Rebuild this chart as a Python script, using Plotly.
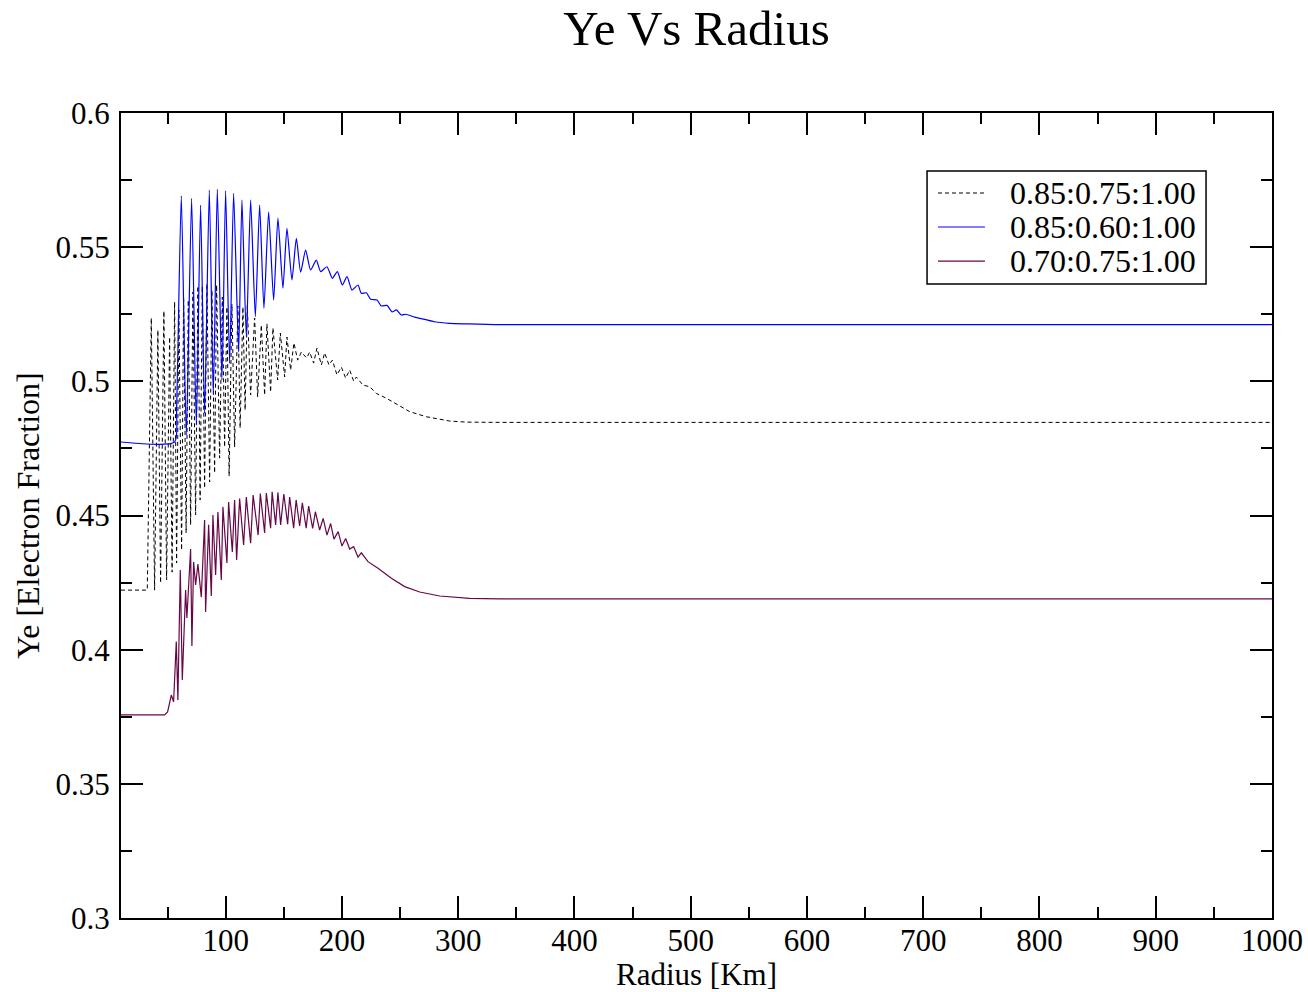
import plotly.graph_objects as go

# ---------------- data ----------------
# Series 1: 0.85:0.75:1.00 (black dashed)
r_black = [10, 32.61, 36.05, 38.89, 41.73, 44.05, 46.89, 49.22, 51.80, 53.95, 56.10,
           57.82, 59.80, 62.12, 63.84, 66.00, 67.89, 69.87, 71.85, 74.17, 76.15,
           78.04, 79.93, 81.91, 83.89, 86.22, 88.20, 90.52, 92.24, 94.82, 97.14,
           99.12, 101.10, 103.00, 105.40, 107.73, 110.57, 112.46, 114.87, 116.76, 118.65,
           121.49, 124.94, 127.52, 130.70, 133.54, 135.52, 138.70, 140.68, 144.73, 147.05,
           150.75, 152.73, 155.91, 158.75, 161.93, 165.12, 169.68, 172.26, 175.70, 178.54,
           182.33, 185.17, 188.87, 191.79, 195.75, 199.54, 203.24, 206.68, 210.12, 212.44,
           218.12, 223.89, 229.65, 238.26, 248.24, 258.30, 272.67, 292.72, 307.09, 335.74, 1000]
ye_black = [0.4222, 0.4222, 0.5236, 0.4222, 0.5191, 0.4248, 0.5262, 0.4260, 0.5165, 0.4289, 0.5296,
            0.4323, 0.5266, 0.4371, 0.5314, 0.4435, 0.5303, 0.4465, 0.5333, 0.4502, 0.5355,
            0.4558, 0.5355, 0.4602, 0.5363, 0.4625, 0.5340, 0.4658, 0.5359, 0.4714, 0.5314,
            0.4755, 0.5277, 0.4647, 0.5288, 0.4755, 0.5281, 0.4826, 0.5277, 0.4893, 0.5281,
            0.4949, 0.5236, 0.4942, 0.5210, 0.4949, 0.5214, 0.4960, 0.5199, 0.5005, 0.5180,
            0.5016, 0.5165, 0.5042, 0.5143, 0.5079, 0.5109, 0.5087, 0.5109, 0.5068, 0.5124,
            0.5061, 0.5106, 0.5061, 0.5079, 0.5024, 0.5053, 0.5012, 0.5042, 0.5001, 0.5016,
            0.4986, 0.4980, 0.4955, 0.4937, 0.4912, 0.4887, 0.4868, 0.4852, 0.4848, 0.4847, 0.4847]

# Series 2: 0.85:0.60:1.00 (blue)
r_blue = [10, 56.10, 57.82, 61.87, 66.17, 70.73, 74.77, 78.47, 81.91, 85.96, 89.40,
          92.84, 96.80, 99.98, 103.42, 106.87, 111.17, 114.01, 117.79, 121.49, 125.54,
          129.24, 132.94, 136.98, 141.28, 144.98, 149.29, 152.73, 157.03, 160.82, 164.5,
          168.8, 173.1, 178.0, 181.7, 187.1, 191.8, 196.1, 200.4, 204.4, 208.7,
          213.8, 216.7, 221.0, 224.7, 230.2, 233.9, 238.8, 243.1, 246.9, 251.2,
          254.9, 262.6, 271.2, 279.8, 292.7, 307.1, 335.7, 1000]
ye_blue = [0.4774, 0.4774, 0.4900, 0.5691, 0.4800, 0.5682, 0.4837, 0.5657, 0.4881, 0.5713, 0.4949,
           0.5716, 0.5005, 0.5710, 0.5067, 0.5701, 0.5110, 0.5676, 0.5166, 0.5676, 0.5241,
           0.5657, 0.5272, 0.5632, 0.5303, 0.5608, 0.5347, 0.5570, 0.5378, 0.5533, 0.5407,
           0.5489, 0.5415, 0.5452, 0.5409, 0.5427, 0.5384, 0.5409, 0.5359, 0.5390, 0.5340,
           0.5359, 0.5328, 0.5330, 0.5306, 0.5303, 0.5281, 0.5283, 0.5259, 0.5266, 0.5247,
           0.5250, 0.5239, 0.5231, 0.5222, 0.5216, 0.5214, 0.5211, 0.5211]

# Series 3: 0.70:0.75:1.00 (maroon)
r_maroon = [10, 47.50, 50.08, 53.26, 55.24, 57.56, 58.94, 61.00, 62.73, 65.57, 66.68,
            69.87, 70.99, 72.45, 74.17, 76.15, 79.08, 81.91, 82.77, 85.36, 87.68,
            89.06, 91.38, 93.36, 96.28, 97.66, 101.10, 102.56, 105.75, 107.73, 109.45,
            112.03, 115.47, 117.79, 121.49, 123.64, 127.95, 129.84, 133.54, 135.00, 138.70,
            139.99, 143.00, 144.98, 147.31, 150.06, 153.33, 155.05, 158.49, 160.64, 163.66,
            165.98, 169.25, 171.40, 174.84, 177.17, 180.86, 183.88, 187.15, 190.33, 193.17,
            196.78, 200.05, 203.24, 206.68, 210.12, 213.82, 216.75, 222.42, 231.03, 242.56,
            254.00, 266.91, 284.12, 309.93, 335.74, 1000]
ye_maroon = [0.3757, 0.3757, 0.3768, 0.3831, 0.3806, 0.4030, 0.3812, 0.4297, 0.3887, 0.4222, 0.4118,
             0.4375, 0.4014, 0.4327, 0.4241, 0.4319, 0.4196, 0.4483, 0.4140, 0.4465, 0.4200,
             0.4502, 0.4278, 0.4513, 0.4260, 0.4532, 0.4323, 0.4550, 0.4364, 0.4558, 0.4334,
             0.4563, 0.4390, 0.4569, 0.4397, 0.4576, 0.4427, 0.4582, 0.4435, 0.4584, 0.4453,
             0.4588, 0.4465, 0.4586, 0.4465, 0.4580, 0.4468, 0.4569, 0.4453, 0.4558, 0.4461,
             0.4547, 0.4453, 0.4535, 0.4452, 0.4514, 0.4446, 0.4489, 0.4427, 0.4470, 0.4412,
             0.4440, 0.4386, 0.4414, 0.4375, 0.4384, 0.4345, 0.4361, 0.4328, 0.4303, 0.4266,
             0.4235, 0.4215, 0.4200, 0.4191, 0.4189, 0.4189]

series_names = ["0.85:0.75:1.00", "0.85:0.60:1.00", "0.70:0.75:1.00"]
series_colors = ["black", "#0000ff", "rgb(103,7,72)"]
series_dash = ["4px,3px", "solid", "solid"]

x_tickvals = [100, 200, 300, 400, 500, 600, 700, 800, 900, 1000]
x_ticktext = ["100", "200", "300", "400", "500", "600", "700", "800", "900", "1000"]
y_tickvals = [0.3, 0.35, 0.4, 0.45, 0.5, 0.55, 0.6]
y_ticktext = ["0.3", "0.35", "0.4", "0.45", "0.5", "0.55", "0.6"]

# ---------------- figure ----------------
FONT = "Liberation Serif, Times New Roman, serif"

fig = go.Figure()
fig.add_trace(go.Scatter(x=r_black, y=ye_black, mode="lines", name=series_names[0],
                         line=dict(color=series_colors[0], width=1, dash=series_dash[0])))
fig.add_trace(go.Scatter(x=r_blue, y=ye_blue, mode="lines", name=series_names[1],
                         line=dict(color=series_colors[1], width=1.2, shape="spline", smoothing=0.6)))
fig.add_trace(go.Scatter(x=r_maroon, y=ye_maroon, mode="lines", name=series_names[2],
                         line=dict(color=series_colors[2], width=1.2)))

axis_common = dict(
    showline=True, linecolor="black", linewidth=2, mirror="allticks",
    ticks="inside", ticklen=22, tickwidth=1.5, tickcolor="black",
    showgrid=False, zeroline=False, automargin=False,
    tickfont=dict(family=FONT, size=31, color="black"),
)

fig.update_xaxes(
    range=[10, 1000], tickmode="array", tickvals=x_tickvals, ticktext=x_ticktext,
    minor=dict(ticks="inside", ticklen=11, tickwidth=1.5, tickcolor="black", dtick=50, tick0=0, showgrid=False),
    title=dict(text="Radius [Km]", font=dict(family=FONT, size=31, color="black"), standoff=12),
    ticklabelstandoff=-6,
    **axis_common,
)
fig.update_yaxes(
    range=[0.3, 0.6], tickmode="array", tickvals=y_tickvals, ticktext=y_ticktext,
    minor=dict(ticks="inside", ticklen=11, tickwidth=1.5, tickcolor="black", dtick=0.025, tick0=0.3, showgrid=False),
    title=dict(text="Ye [Electron Fraction]", font=dict(family=FONT, size=32, color="black"), standoff=6),
    ticklabelstandoff=3,
    **axis_common,
)

# ---- legend box drawn in plot-domain coordinates ----
leg_x0, leg_x1, leg_y0, leg_y1 = 0.7003, 0.9427, 0.7876, 0.9280
sample_x0, sample_x1, text_x = 0.7098, 0.7506, 0.7706
row_y = [0.9006, 0.8584, 0.8161]

shapes = [dict(type="rect", xref="x domain", yref="y domain",
               x0=leg_x0, x1=leg_x1, y0=leg_y0, y1=leg_y1,
               line=dict(color="black", width=1.5), fillcolor="white", layer="above")]
annotations = []
for i, name in enumerate(series_names):
    shapes.append(dict(type="line", xref="x domain", yref="y domain",
                       x0=sample_x0, x1=sample_x1, y0=row_y[i], y1=row_y[i],
                       line=dict(color=series_colors[i], width=1.2, dash=series_dash[i]), layer="above"))
    annotations.append(dict(text=name, xref="x domain", yref="y domain",
                            x=text_x, y=row_y[i], xanchor="left", yanchor="middle",
                            showarrow=False, font=dict(family=FONT, size=32, color="black")))

fig.update_layout(
    width=1308, height=992,
    margin=dict(l=121, r=36, t=113, b=74, pad=0),
    paper_bgcolor="white", plot_bgcolor="white",
    title=dict(text="Ye Vs Radius", x=0.5, xref="paper", xanchor="center",
               y=1 - 28 / 992, yref="container", yanchor="middle",
               font=dict(family=FONT, size=49, color="black")),
    showlegend=False,
    shapes=shapes,
    annotations=annotations,
)

fig.write_html("out.html")
